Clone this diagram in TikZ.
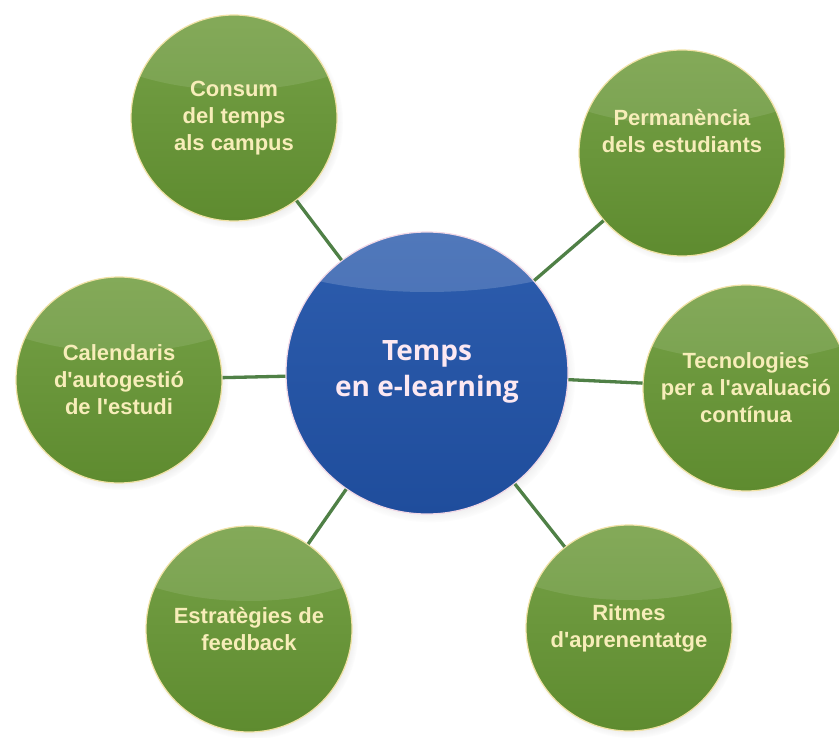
\documentclass[tikz,border=0pt]{standalone}
\usepackage{fontspec}
\setmainfont{Liberation Sans}
\newfontfamily\ctrfont{Open Sans}
\usetikzlibrary{shadows,fadings}
\definecolor{gtop}{HTML}{76A147}
\definecolor{gbot}{HTML}{5E8B2F}
\definecolor{gborder}{HTML}{F1E2A6}
\definecolor{gtext}{HTML}{F7EDB9}
\definecolor{btop}{HTML}{2D5DAE}
\definecolor{bbot}{HTML}{1F4D9C}
\definecolor{bborder}{HTML}{F2D8E6}
\definecolor{btext}{HTML}{FCE8F2}
\definecolor{conn}{HTML}{4F8046}
\newcommand{\ap}{\textquotesingle}
\begin{document}
\begin{tikzpicture}[x=1pt,y=-1pt,
  glossy/.style n args={4}{path picture={%
    \fill[white,fill opacity=#4,rotate around={10:([yshift=#1]path picture bounding box.north)}]
      ([yshift=#1]path picture bounding box.north) ellipse [x radius=#2, y radius=#3];}},
  topic/.style={circle, minimum size=206pt, inner sep=0pt,
    top color=gtop, bottom color=gbot, draw=gborder, line width=1.2pt,
    text=gtext, font=\bfseries\fontsize{22}{27}\selectfont, align=center,
    circular drop shadow={shadow scale=1.03, shadow xshift=3pt, shadow yshift=-4pt, opacity=0.25},
    glossy={40pt}{200pt}{115pt}{0.1}},
  hub/.style={circle, minimum size=282pt, inner sep=0pt,
    top color=btop, bottom color=bbot, draw=bborder, line width=1.2pt,
    text=btext, font=\ctrfont\bfseries\fontsize{28}{36}\selectfont, align=center,
    circular drop shadow={shadow scale=1.03, shadow xshift=3pt, shadow yshift=-4pt, opacity=0.25},
    glossy={60pt}{260pt}{120pt}{0.17}},
  link/.style={draw=conn, line width=3.3pt}
]
\useasboundingbox (0,0) rectangle (839,738);
\fill[white] (0,0) rectangle (839,738);

\node[hub, text depth=8pt] (hub) at (427,373) {Temps\\en e-learning};

\node[topic] (n1) at (234,118) {Consum\\del temps\\als campus};
\node[topic, text depth=44pt] (n2) at (682,153) {Permanència\\dels estudiants};
\node[topic] (n3) at (119,380) {Calendaris\\d\ap autogestió\\de l\ap estudi};
\node[topic] (n4) at (746,388) {Tecnologies\\per a l\ap avaluació\\contínua};
\node[topic] (n5) at (249,629) {Estratègies de\\feedback};
\node[topic] (n6) at (629,628) {Ritmes\\d\ap aprenentatge};

\draw[link] (hub) -- (n1);
\draw[link] (hub) -- (n2);
\draw[link] (hub) -- (n3);
\draw[link] (hub) -- (n4);
\draw[link] (hub) -- (n5);
\draw[link] (hub) -- (n6);
\end{tikzpicture}
\end{document}
